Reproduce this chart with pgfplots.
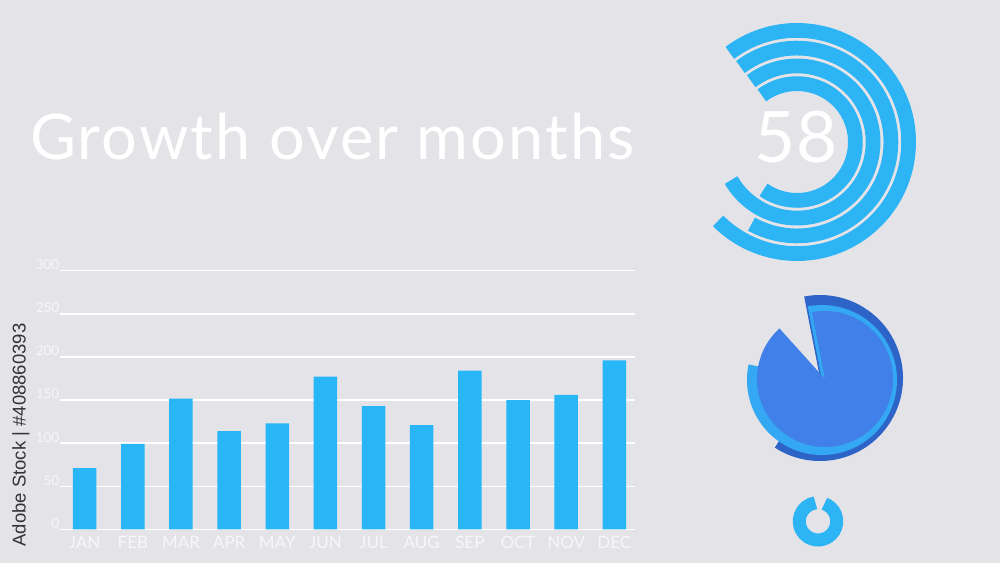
\documentclass[border=0pt]{standalone}
\usepackage{fontspec}
\setmainfont{Lato}
\newfontfamily\creditfont{Liberation Sans}
\newfontfamily\titlefont[LetterSpace=3.5]{Lato}
\usepackage{pgfplots}
\pgfplotsset{compat=1.18}
\definecolor{bg}{RGB}{228,228,232}
\definecolor{barblue}{RGB}{41,182,246}
\definecolor{ringblue}{RGB}{45,180,245}
\definecolor{pieroyal}{RGB}{64,128,232}
\definecolor{piedark}{RGB}{46,99,199}
\definecolor{pielight}{RGB}{52,168,242}
\definecolor{lbl}{RGB}{247,247,249}
\pgfplotstableread{
idx value
0 71
1 99
2 151.5
3 114
4 123
5 177
6 143
7 121
8 184
9 150
10 156
11 196
}\growth
\begin{document}
\begin{tikzpicture}[x=1pt,y=1pt]
\fill[bg] (0,0) rectangle (1000,563);
\useasboundingbox (0,0) rectangle (1000,563);
\begin{axis}[
  at={(60pt,33.7pt)}, anchor=south west,
  scale only axis, width=575pt, height=258.6pt,
  xmin=-0.513, xmax=11.43, ymin=0, ymax=300,
  ytick={0,50,...,300},
  xtick={0,...,11},
  xticklabels={JAN,FEB,MAR,APR,MAY,JUN,JUL,AUG,SEP,OCT,NOV,DEC},
  axis line style={draw=none},
  major tick length=0pt,
  ymajorgrids, grid style={white, line width=1.4pt},
  /pgf/number format/assume math mode=true,
  yticklabel style={anchor=south east, inner sep=0pt, xshift=-0.5pt, yshift=0.8pt,
    font=\fontsize{13.5}{14}\selectfont, text=lbl},
  xticklabel style={anchor=north, inner sep=0pt, yshift=-6.5pt,
    font=\fontsize{17}{18}\selectfont, text=lbl},
  clip=false,
]
\addplot[ybar, bar width=23.5pt, fill=barblue, draw=none] table[x=idx, y=value] {\growth};
\end{axis}
\node[anchor=base west, inner sep=0pt, text=white, font=\titlefont\fontsize{63}{70}\selectfont] at (30,403) {Growth over months};
% rings
\foreach \r/\e in {58.4/-125, 76.1/-150, 93.9/-119, 111.6/-135}
  \draw[ringblue, line width=14.75pt] (797,421) ++(127:\r) arc[start angle=127, end angle=\e, radius=\r];
\node[anchor=base, inner sep=0pt, text=white, font=\fontsize{71}{80}\selectfont] at (796,400) {58};
% pie
\fill[piedark] (820,185) -- ++(-123:83) arc[start angle=-123, end angle=101, radius=83] -- cycle;
\fill[pielight] (822,183) -- ++(-192:75) arc[start angle=-192, end angle=101, radius=75] -- cycle;
\fill[pieroyal] (825,184) -- ++(-228:68) arc[start angle=-228, end angle=101, radius=68] -- cycle;
% donut
\draw[ringblue, line width=13pt] (818,41.7) ++(70:18.7) arc[start angle=70, end angle=-262, radius=18.7];
% credit
\node[rotate=90, inner sep=0pt, text=black!80, font=\creditfont\fontsize{18.5}{20}\selectfont] at (21,128) {Adobe Stock | \#408860393};
\end{tikzpicture}
\end{document}
